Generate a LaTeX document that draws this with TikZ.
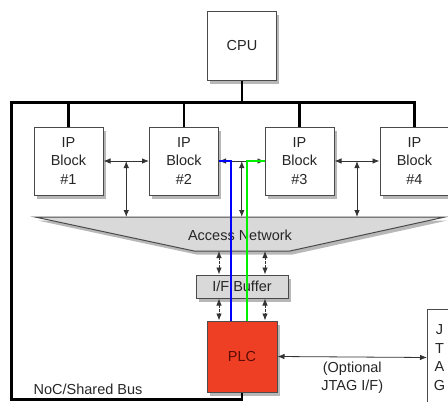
\documentclass[tikz,border=0pt]{standalone}
\usepackage{fontspec}
\setmainfont{Liberation Sans}
\usetikzlibrary{positioning, arrows.meta, shadows, calc}
\definecolor{boxline}{HTML}{4A4A4A}
\definecolor{netfill}{HTML}{D9D9D9}
\definecolor{plcred}{HTML}{EE3F24}
\definecolor{plctext}{HTML}{5A0C05}
\definecolor{wireblue}{HTML}{0000FF}
\definecolor{wiregreen}{HTML}{00F000}

\begin{document}
\begin{tikzpicture}[x=1pt, y=-1pt, font=\fontsize{14.5}{18.5}\selectfont,
  boxshadow/.style={drop shadow={shadow xshift=2.5pt, shadow yshift=-3.5pt, opacity=0.4, fill=black!70}},
  blockbox/.style={draw=boxline, fill=white, line width=1pt, minimum width=69pt,
    minimum height=68pt, align=center, inner sep=1pt, text=black!85, boxshadow},
  bus/.style={line width=2.6pt, draw=black},
  dblarrow/.style={{Latex[length=7pt, width=5.5pt]}-{Latex[length=7pt, width=5.5pt]}, line width=0.8pt, draw=black!80},
  dasharrow/.style={dblarrow, dash pattern=on 2.5pt off 1.5pt},
  wire/.style={line width=2.6pt}]
  \useasboundingbox (0,0) rectangle (448,402);

  % processor and IP blocks
  \node[blockbox, minimum height=69pt] (cpu) at (242,45.5) {CPU};
  \foreach \i/\xx in {1/68.5, 2/184, 3/299.5, 4/414.5} {
    \node[blockbox] (ip\i) at (\xx,161) {IP\\Block\\\#\i};
  }

  % shared bus
  \coordinate (busL) at (11.5,399.5);
  \coordinate (busR) at (ip4.north |- 0,102.5);
  \node[blockbox, fill=plcred, text=plctext, minimum width=70pt, minimum height=71pt,
        draw=black!70] (plc) at (242,356.5) {PLC};
  \draw[bus] (plc.south) |- (busL) |- (busR) -- (ip4.north);
  \draw[bus] (cpu.south) -- (cpu.south |- busR);
  \foreach \i in {1,2,3} {
    \draw[bus] (ip\i.north) -- (ip\i.north |- busR);
  }

  % access network
  \coordinate (netTL) at (35,217);
  \coordinate (netTR) at (445,217);
  \coordinate (netBR) at (290,251);
  \coordinate (netBL) at (194,251);
  \fill[black, opacity=0.28] ([shift={(2.5,3.5)}]netTL) -- ([shift={(2.5,3.5)}]netTR)
    -- ([shift={(2.5,3.5)}]netBR) -- ([shift={(2.5,3.5)}]netBL) -- cycle;
  \draw[draw=boxline, fill=netfill, line width=1pt] (netTL) -- (netTR) -- (netBR) -- (netBL) -- cycle;
  \node[text=black!85] (net) at (240,235.5) {Access Network};

  % links between blocks
  \foreach \a/\b in {1/2, 2/3, 3/4} {
    \draw[dblarrow] (ip\a.east) -- (ip\b.west);
    \coordinate (tap\a) at ($(ip\a.east)!0.5!(ip\b.west)$);
    \draw[dblarrow] (tap\a) -- (tap\a |- netTL);
  }

  % interface buffer
  \node[blockbox, fill=netfill, minimum width=92pt, minimum height=23pt] (buf) at (242,286.5) {I/F Buffer};
  \foreach \dx in {-23,23} {
    \draw[dasharrow] ($(buf.north)+(\dx,0)$) -- ($(netBL)!0.5!(netBR)+(\dx,0)$);
    \draw[dasharrow] ($(buf.south)+(\dx,0)$) -- ($(plc.north)+(\dx,0)$);
  }

  % JTAG port
  \node[draw=boxline, fill=white, line width=1pt, minimum width=24pt, minimum height=96pt,
        align=center, anchor=north west, inner sep=0pt, text=black!85] (jtag) at (427,309) {J\\T\\A\\G};
  \draw[dblarrow] (plc.east) -- (jtag.west)
    node[midway, below=1pt, align=center, text=black!85] (jtaglbl) {(Optional\\JTAG I/F)};

  % highlighted paths to the PLC
  \draw[wire, wireblue] (ip2.east) -| ($(plc.north)+(-11,0)$);
  \draw[wire, wiregreen] (ip3.west) -| ($(plc.north)+(5,0)$);

  \node[text=black!85] (noc) at (88,389) {NoC/Shared Bus};
\end{tikzpicture}
\end{document}
